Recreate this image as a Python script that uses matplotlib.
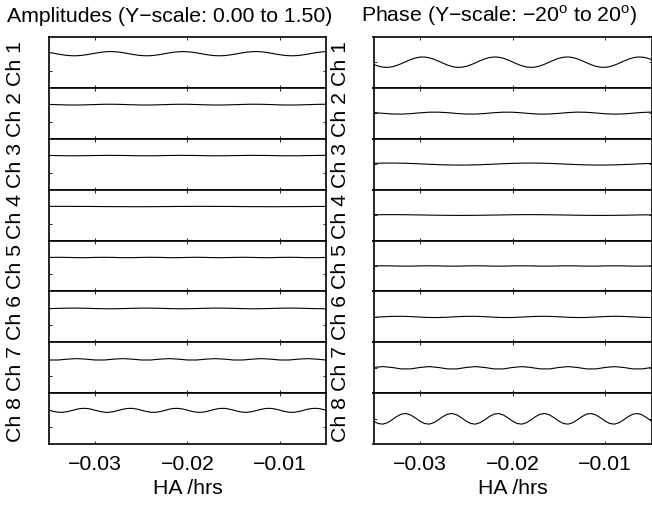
import numpy as np
import matplotlib
matplotlib.use('Agg')
import matplotlib.pyplot as plt

plt.rcParams['font.family'] = ['Liberation Sans', 'DejaVu Sans']
plt.rcParams['mathtext.fontset'] = 'custom'
plt.rcParams['mathtext.rm'] = 'Liberation Sans'
plt.rcParams['font.size'] = 15.3

# hour angle sample grids (hrs)
ha_fine = np.linspace(-0.035, -0.005, 61)
ha_coarse = np.linspace(-0.035, -0.005, 31)

# amplitudes
amp_ch1 = [1.036, 1.013, 0.988, 0.966, 0.948, 0.939, 0.939, 0.949, 0.967, 0.990,
           1.015, 1.037, 1.054, 1.062, 1.060, 1.049, 1.030, 1.006, 0.982, 0.960,
           0.945, 0.938, 0.941, 0.954, 0.973, 0.997, 1.022, 1.043, 1.057, 1.062,
           1.057, 1.044, 1.023, 0.999, 0.975, 0.955, 0.942, 0.938, 0.944, 0.959,
           0.980, 1.004, 1.028, 1.047, 1.059, 1.062, 1.055, 1.039, 1.017, 0.992,
           0.969, 0.951, 0.940, 0.939, 0.947, 0.964, 0.986, 1.011, 1.034, 1.051,
           1.061]
amp_ch2 = [1.007, 0.998, 0.990, 0.988, 0.994, 1.003, 1.011, 1.011, 1.005, 0.996,
           0.989, 0.989, 0.996, 1.005, 1.011, 1.011, 1.003, 0.994, 0.988, 0.990,
           0.998, 1.007, 1.012, 1.010, 1.002, 0.992, 0.988, 0.991, 0.999, 1.008,
           1.012]
amp_ch3 = [1.003, 0.999, 0.995, 0.994, 0.997, 1.002, 1.005, 1.006, 1.003, 0.998,
           0.994, 0.994, 0.998, 1.003, 1.006, 1.005, 1.002, 0.997, 0.994, 0.995,
           0.999, 1.003, 1.006, 1.005, 1.001, 0.996, 0.994, 0.995, 1.000, 1.004,
           1.006]
amp_ch4 = [1.004, 1.005, 1.005, 1.004, 1.003, 1.001, 0.999, 0.997, 0.996, 0.995,
           0.995, 0.996, 0.998, 1.000, 1.002, 1.004, 1.005, 1.005, 1.004, 1.003,
           1.001, 0.999, 0.997, 0.996, 0.995, 0.995, 0.997, 0.998, 1.000, 1.002,
           1.003]
amp_ch5 = [1.002, 1.006, 1.002, 0.995, 0.995, 1.002, 1.006, 1.002, 0.995, 0.995,
           1.002, 1.006, 1.002, 0.995, 0.995, 1.002, 1.006, 1.002, 0.995, 0.995,
           1.002, 1.006, 1.002, 0.995, 0.995, 1.002, 1.006, 1.002, 0.995, 0.995,
           1.002]
amp_ch6 = [0.994, 1.002, 1.008, 1.010, 1.005, 0.997, 0.991, 0.990, 0.996, 1.003,
           1.009, 1.009, 1.004, 0.996, 0.991, 0.991, 0.997, 1.005, 1.010, 1.008,
           1.002, 0.994, 0.990, 0.992, 0.999, 1.006, 1.010, 1.008, 1.000, 0.993,
           0.990]
amp_ch7 = [0.982, 0.982, 1.007, 1.022, 1.007, 0.982, 0.982, 1.007, 1.022, 1.007,
           0.982, 0.982, 1.007, 1.022, 1.007, 0.982, 0.982, 1.007, 1.022, 1.007,
           0.982, 0.982, 1.007, 1.022, 1.007, 0.982, 0.982, 1.007, 1.022, 1.007,
           0.982]
amp_ch8 = [1.004, 0.968, 0.944, 0.942, 0.962, 0.996, 1.032, 1.056, 1.058, 1.038,
           1.004, 0.968, 0.944, 0.942, 0.962, 0.996, 1.032, 1.056, 1.058, 1.038,
           1.004, 0.968, 0.944, 0.942, 0.962, 0.996, 1.032, 1.056, 1.058, 1.038,
           1.004, 0.968, 0.944, 0.942, 0.962, 0.996, 1.032, 1.056, 1.058, 1.038,
           1.004, 0.968, 0.944, 0.942, 0.962, 0.996, 1.032, 1.056, 1.058, 1.038,
           1.004, 0.968, 0.944, 0.942, 0.962, 0.996, 1.032, 1.056, 1.058, 1.038,
           1.004]

# phases (degrees)
pha_ch1 = [-1.73, -3.05, -3.88, -4.09, -3.64, -2.62, -1.17, 0.46, 2.02, 3.26,
           3.97, 4.05, 3.48, 2.35, 0.85, -0.79, -2.30, -3.45, -4.04, -3.99,
           -3.30, -2.07, -0.52, 1.11, 2.57, 3.62, 4.08, 3.90, 3.09, 1.78,
           0.19, -1.43, -2.82, -3.76, -4.10, -3.78, -2.86, -1.48, 0.14, 1.73,
           3.05, 3.88, 4.09, 3.64, 2.61, 1.16, -0.47, -2.03, -3.26, -3.98,
           -4.05, -3.48, -2.35, -0.84, 0.80, 2.31, 3.45, 4.04, 3.99, 3.29,
           2.07]
pha_ch2 = [0.46, -0.15, -0.67, -0.78, -0.40, 0.22, 0.71, 0.76, 0.35, -0.28,
           -0.73, -0.74, -0.29, 0.34, 0.76, 0.71, 0.23, -0.39, -0.78, -0.68,
           -0.17, 0.45, 0.79, 0.64, 0.10, -0.50, -0.80, -0.60, -0.04, 0.55,
           0.80]
pha_ch3 = [0.59, 0.76, 0.80, 0.70, 0.49, 0.19, -0.14, -0.45, -0.68, -0.79,
           -0.77, -0.62, -0.36, -0.04, 0.28, 0.56, 0.74, 0.80, 0.72, 0.51,
           0.22, -0.11, -0.42, -0.66, -0.79, -0.78, -0.64, -0.39, -0.08, 0.25,
           0.54]
pha_ch4 = [0.22, 0.28, 0.30, 0.26, 0.18, 0.07, -0.05, -0.16, -0.25, -0.30,
           -0.29, -0.23, -0.13, -0.02, 0.10, 0.21, 0.28, 0.30, 0.27, 0.19,
           0.08, -0.04, -0.16, -0.25, -0.29, -0.29, -0.24, -0.15, -0.03, 0.10,
           0.20]
pha_ch5 = [0.05, 0.15, 0.05, -0.12, -0.12, 0.05, 0.15, 0.05, -0.12, -0.12,
           0.05, 0.15, 0.05, -0.12, -0.12, 0.05, 0.15, 0.05, -0.12, -0.12,
           0.05, 0.15, 0.05, -0.12, -0.12, 0.05, 0.15, 0.05, -0.12, -0.12,
           0.05]
pha_ch6 = [-0.29, 0.10, 0.42, 0.49, 0.25, -0.14, -0.44, -0.48, -0.22, 0.17,
           0.46, 0.46, 0.18, -0.21, -0.47, -0.44, -0.14, 0.25, 0.48, 0.42,
           0.10, -0.28, -0.49, -0.40, -0.06, 0.31, 0.50, 0.38, 0.02, -0.34,
           -0.50]
pha_ch7 = [0.31, 1.00, 0.31, -0.81, -0.81, 0.31, 1.00, 0.31, -0.81, -0.81,
           0.31, 1.00, 0.31, -0.81, -0.81, 0.31, 1.00, 0.31, -0.81, -0.81,
           0.31, 1.00, 0.31, -0.81, -0.81, 0.31, 1.00, 0.31, -0.81, -0.81,
           0.31]
pha_ch8 = [-1.79, -3.68, -4.17, -3.06, -0.79, 1.79, 3.68, 4.17, 3.06, 0.79,
           -1.79, -3.68, -4.17, -3.06, -0.79, 1.79, 3.68, 4.17, 3.06, 0.79,
           -1.79, -3.68, -4.17, -3.06, -0.79, 1.79, 3.68, 4.17, 3.06, 0.79,
           -1.79, -3.68, -4.17, -3.06, -0.79, 1.79, 3.68, 4.17, 3.06, 0.79,
           -1.79, -3.68, -4.17, -3.06, -0.79, 1.79, 3.68, 4.17, 3.06, 0.79,
           -1.79, -3.68, -4.17, -3.06, -0.79, 1.79, 3.68, 4.17, 3.06, 0.79,
           -1.79]

amps = [amp_ch1, amp_ch2, amp_ch3, amp_ch4, amp_ch5, amp_ch6, amp_ch7, amp_ch8]
phases = [pha_ch1, pha_ch2, pha_ch3, pha_ch4, pha_ch5, pha_ch6, pha_ch7, pha_ch8]
channels = ['Ch %d' % (n + 1) for n in range(8)]

W, H = 652., 506.
fig = plt.figure(figsize=(W / 100, H / 100), dpi=100)

col_x = [49.0, 373.5]
col_w = [277.0, 278.0]
top = 37.7
ph = 50.95
ylims = [(0, 1.5), (-20, 20)]
yticks = [[0.5], [0]]

for c, data in enumerate([amps, phases]):
    for k in range(8):
        y0 = H - (top + ph * (k + 1))
        ax = fig.add_axes([col_x[c] / W, y0 / H, col_w[c] / W, ph / H])
        vals = data[k]
        xs = ha_fine if len(vals) == len(ha_fine) else ha_coarse
        ax.plot(xs, vals, color='black', lw=0.8)
        ax.set_xlim(-0.035, -0.005)
        ax.set_ylim(*ylims[c])
        ax.set_xticks([-0.03, -0.02, -0.01])
        ax.set_yticks(yticks[c])
        ax.tick_params(direction='in', top=True, right=True, length=2.2, width=0.6,
                       labelleft=False, labelbottom=(k == 7), pad=7)
        for sp in ax.spines.values():
            sp.set_linewidth(1.2)
        ax.text(-0.12, 0.5, channels[k], transform=ax.transAxes, rotation=90,
                ha='center', va='center')
        if k == 7:
            ax.set_xlabel('HA /hrs', labelpad=3.5)

fig.text(169.5 / W, 1 - 21.7 / H, 'Amplitudes (Y\u2212scale: 0.00 to 1.50)',
         ha='center', va='baseline')
fig.text(499 / W, 1 - 21.7 / H,
         'Phase (Y\u2212scale: \u221220$^{\\mathrm{o}}$ to 20$^{\\mathrm{o}}$)',
         ha='center', va='baseline')

plt.savefig('out.png', dpi=100)
